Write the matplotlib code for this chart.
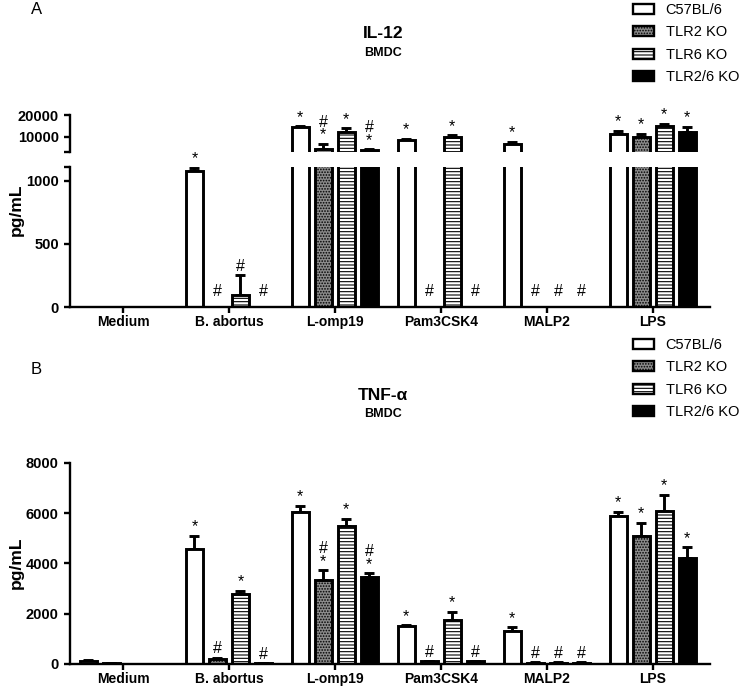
import matplotlib
matplotlib.use('Agg')
import matplotlib.pyplot as plt
from matplotlib.patches import Patch
import numpy as np

plt.rcParams['font.family'] = ['Liberation Sans', 'DejaVu Sans']
plt.rcParams['hatch.linewidth'] = 0.8

groups = ['Medium', 'B. abortus', 'L-omp19', 'Pam3CSK4', 'MALP2', 'LPS']
strains = ['C57BL/6', 'TLR2 KO', 'TLR6 KO', 'TLR2/6 KO']

# IL-12 (pg/mL), one list per strain, in group order
il12_wt = [0, 1080, 14500, 8600, 6700, 11200]
il12_tlr2 = [0, 0, 4500, 0, 0, 10100]
il12_tlr6 = [0, 95, 12000, 9700, 0, 15100]
il12_tlr26 = [0, 0, 4100, 0, 0, 12000]
il12_wt_err = [0, 25, 400, 500, 900, 1500]
il12_tlr2_err = [0, 0, 2300, 0, 0, 1400]
il12_tlr6_err = [0, 155, 2000, 1100, 0, 800]
il12_tlr26_err = [0, 0, 200, 0, 0, 2700]

# TNF-alpha (pg/mL)
tnf_wt = [100, 4570, 6030, 1530, 1310, 5900]
tnf_tlr2 = [30, 180, 3360, 100, 50, 5080]
tnf_tlr6 = [0, 2780, 5490, 1770, 50, 6090]
tnf_tlr26 = [0, 30, 3470, 100, 50, 4210]
tnf_wt_err = [40, 540, 270, 20, 160, 150]
tnf_tlr2_err = [10, 70, 370, 20, 10, 530]
tnf_tlr6_err = [0, 130, 290, 310, 10, 650]
tnf_tlr26_err = [0, 10, 140, 20, 10, 430]

# significance marks
il12_marks = [['', '*', '*', '*', '*', '*'],
              ['', '#', '#\n*', '#', '#', '*'],
              ['', '#', '*', '*', '#', '*'],
              ['', '#', '#\n*', '#', '#', '*']]
tnf_marks = [['', '*', '*', '*', '*', '*'],
             ['', '#', '#\n*', '#', '#', '*'],
             ['', '*', '*', '*', '#', '*'],
             ['', '#', '#\n*', '#', '#', '*']]

styles = [dict(facecolor='white', hatch=None),
          dict(facecolor='#8c8c8c', hatch='......'),
          dict(facecolor='white', hatch='-----'),
          dict(facecolor='black', hatch=None)]

x = np.arange(len(groups))
step = 0.217
width = 0.16
lw = 2.1


def style_axis(ax):
    for s in ['top', 'right']:
        ax.spines[s].set_visible(False)
    for s in ['left', 'bottom']:
        ax.spines[s].set_linewidth(1.7)
    ax.tick_params(axis='both', width=1.7, length=4.5, labelsize=10.5)
    ax.tick_params(axis='x', pad=1.5, labelsize=10)
    for lab in ax.get_yticklabels() + ax.get_xticklabels():
        lab.set_fontweight('bold')
    ax.set_xlim(-0.5, 5.54)


def draw_bars(axes, means, errs, marks):
    for i in range(4):
        pos = x + (i - 1.5) * step
        for ax in axes:
            ax.bar(pos, means[i], width, color=styles[i]['facecolor'],
                   hatch=styles[i]['hatch'], edgecolor='black', linewidth=lw,
                   zorder=2)
            for j in range(len(groups)):
                if errs[i][j] > 0:
                    ax.errorbar(pos[j], means[i][j], yerr=[[0], [errs[i][j]]],
                                color='black', elinewidth=lw, capsize=3.5,
                                capthick=lw, zorder=1)
        for j in range(len(groups)):
            if marks[i][j] == '':
                continue
            top = means[i][j] + errs[i][j]
            for ax in axes:
                lo, hi = ax.get_ylim()
                if lo <= top <= hi or (top < lo and ax is axes[-1]):
                    off = 1 if top > 0 else 6
                    ax.annotate(marks[i][j], xy=(pos[j], top), xytext=(0, off),
                                textcoords='offset points', ha='center',
                                va='bottom', fontsize=11.5, linespacing=0.8)
                    break


fig = plt.figure(figsize=(7.42, 6.87), dpi=100)

# panel A: broken axis
ax_hi = fig.add_axes([0.0943, 0.7787, 0.8625, 0.0539])
ax_lo = fig.add_axes([0.0943, 0.5531, 0.8625, 0.2038])
ax_hi.set_ylim(3000, 20000)
ax_lo.set_ylim(0, 1110)
draw_bars([ax_hi, ax_lo],
          [il12_wt, il12_tlr2, il12_tlr6, il12_tlr26],
          [il12_wt_err, il12_tlr2_err, il12_tlr6_err, il12_tlr26_err],
          il12_marks)
ax_hi.set_yticks([3000, 10000, 20000])
ax_hi.set_yticklabels(['', '10000', '20000'])
ax_hi.set_xticks([])
ax_lo.set_yticks([0, 500, 1000, 1110])
ax_lo.set_yticklabels(['0', '500', '1000', ''])
ax_lo.set_xticks(x)
ax_lo.set_xticklabels(groups)
style_axis(ax_hi)
style_axis(ax_lo)
ax_hi.spines['bottom'].set_visible(False)
ax_hi.tick_params(axis='x', bottom=False)

# panel B
ax_b = fig.add_axes([0.0943, 0.0335, 0.8625, 0.2926])
ax_b.set_ylim(0, 8000)
draw_bars([ax_b],
          [tnf_wt, tnf_tlr2, tnf_tlr6, tnf_tlr26],
          [tnf_wt_err, tnf_tlr2_err, tnf_tlr6_err, tnf_tlr26_err],
          tnf_marks)
ax_b.set_yticks([0, 2000, 4000, 6000, 8000])
ax_b.set_xticks(x)
ax_b.set_xticklabels(groups)
style_axis(ax_b)

# labels and titles
fig.text(0.022, 1 - 210 / 687, 'pg/mL', rotation=90, ha='center', va='center',
         fontsize=12.5, fontweight='bold')
fig.text(0.022, 1 - 563 / 687, 'pg/mL', rotation=90, ha='center', va='center',
         fontsize=12.5, fontweight='bold')
fig.text(0.049, 1 - 10 / 687, 'A', fontsize=12, ha='center', va='center')
fig.text(0.049, 1 - 369 / 687, 'B', fontsize=12, ha='center', va='center')
fig.text(383 / 742, 1 - 34 / 687, 'IL-12', fontsize=12.5, fontweight='bold',
         ha='center', va='center')
fig.text(383 / 742, 1 - 53 / 687, 'BMDC', fontsize=9, fontweight='bold',
         ha='center', va='center')
fig.text(383 / 742, 1 - 395 / 687, 'TNF-α', fontsize=12.5, fontweight='bold',
         ha='center', va='center')
fig.text(383 / 742, 1 - 414 / 687, 'BMDC', fontsize=9, fontweight='bold',
         ha='center', va='center')

handles = [Patch(facecolor=s['facecolor'], hatch=s['hatch'], edgecolor='black',
                 linewidth=1.7) for s in styles]
for ytop in [1.0, 1 - 335 / 687]:
    fig.legend(handles, strains, loc='upper right', bbox_to_anchor=(1.0, ytop),
               frameon=False, fontsize=10.5, handlelength=1.45, handleheight=0.7,
               labelspacing=0.58, handletextpad=0.8, borderaxespad=0.1,
               borderpad=0.1)

fig.savefig('out.png', dpi=100)
